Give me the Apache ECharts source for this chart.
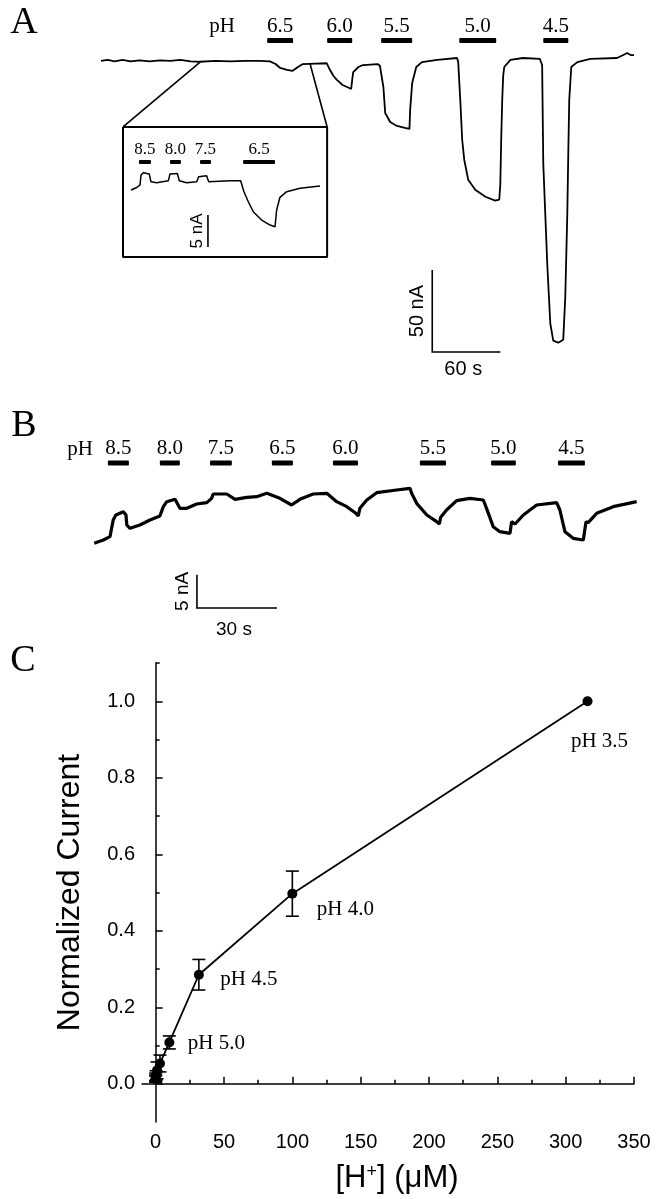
<!DOCTYPE html>
<html>
<head>
<meta charset="utf-8">
<script src="https://cdn.jsdelivr.net/npm/echarts@6/dist/echarts.min.js"></script>
<style>
  html, body { margin: 0; padding: 0; background: #fff; }
  #chart { width: 658px; height: 1199px; }
</style>
</head>
<body>
<div id="chart"></div>
<script>
// ---- panel A: whole-cell current (time in s, current in nA) ----
const timeA = [0, 6, 12, 19, 26, 34, 43, 52, 61, 70, 79, 87, 101, 114, 127, 140, 149, 154, 158, 164,
  169, 174, 178, 189, 199, 201, 205, 208, 213, 217, 220.6, 221.5, 222.4, 227, 231, 244, 246, 249, 250.6, 255,
  261, 268, 272, 272.6, 274.4, 278, 283, 296.5, 314, 315, 316.8, 318.5, 320.3, 323.8, 330, 339, 347.6, 351.2, 352.1, 352.9,
  353.8, 354.7, 355.6, 361, 372, 387, 389, 390, 393.5, 396.2, 398.8, 403.2, 407.6, 409.4, 411.2, 412.1, 412.9, 414.7, 420, 431.5,
  455, 460.6, 464, 467, 470];
const currentA = [0.5, 1.1, 0.2, 1.1, 0.2, 0.8, 0.2, 0.8, 0.5, 1.1, 0.2, 0.0, 0.5, 0.2, 0.5, 0.5, 0.2, -1.4, -3.8, -5.0,
  -5.5, -3.0, -1.4, -1.1, -0.9, -3.8, -8.7, -11.1, -14.2, -15.4, -16.6, -11.1, -6.3, -3.2, -2.0, -1.4, -2.6, -15.4, -31.3, -36.8,
  -39.2, -40.4, -41.0, -29.4, -13.0, -3.2, -0.2, 1.1, 2.3, -0.2, -23.3, -47.6, -59.8, -72, -78.1, -82.4, -84.8, -84.2, -75.1, -47.6,
  -23.3, -8.1, -3.2, 1.1, 2.3, 1.7, -2.0, -62.2, -123.3, -159.9, -170.3, -171.5, -169.7, -143.6, -92.3, -53.9, -23.3, -3.2, -0.2, 1.7,
  2.3, 4.1, 5.4, 4.1, 4.1];
const phA = ['6.5', '6.0', '5.5', '5.0', '4.5'];
const phAStart = [146.5, 199.4, 247, 315.9, 390];
const phAEnd = [169.4, 221.5, 274.4, 348.5, 412.1];
const phALevel = 13;
const scaleA = [292.1, -177.2, 60, 50];       // t0, i0, seconds, nA
const insetBoxTime = [19.4, 199.4];
const insetBoxCurrent = [-39.8, -119.2];
const zoomFromTime = [87.4, 184.4];
const zoomFromCurrent = [-0.2, -1.4];

// ---- panel A inset: alkaline steps ----
const timeInset = [0, 3.8, 6, 6.7, 8.2, 12.2, 13.3, 17.1, 24.9, 26, 30.9, 32.2, 37.1, 43.8, 45.1, 50.4, 51.8, 66, 73.1, 75.3,
  78.2, 81.5, 87.1, 92.7, 96, 97.1, 99.3, 103.8, 112.7, 126];
const currentInset = [-1.3, -0.9, -0.5, 1.05, 1.4, 1.2, 0, -0.16, 0.16, 1.2, 1.3, 0.16, -0.16, 0, 0.78, 0.94, 0, 0.16, 0.16, -1.56,
  -3.13, -4.69, -6.0, -6.78, -7.04, -4.43, -2.44, -1.56, -1.03, -0.67];
const phInset = ['8.5', '8.0', '7.5', '6.5'];
const phInsetStart = [5.3, 26, 46, 74.7];
const phInsetEnd = [13.3, 33.3, 53.3, 96];
const phInsetLevel = 3.08;
const scaleInset = [51.3, -10.2, 0, 5];

// ---- panel B ----
const timeB = [0.1, 3.5, 6.0, 7.2, 8.2, 11.0, 12.0, 12.3, 13.5, 17.2, 21.0, 24.7, 26.0, 27.3, 30.4, 31.2, 32.2, 34.8, 38.5, 42.3,
  44.1, 44.7, 49.8, 52.9, 57.3, 61.0, 64.8, 69.7, 74.1, 77.2, 82.2, 87.3, 91.0, 94.8, 98.2, 99.1, 99.7, 102.3, 106.0, 113.5,
  118.5, 119.1, 121.0, 124.8, 128.5, 129.5, 130.0, 132.2, 136.0, 141.0, 146.0, 147.2, 149.7, 152.2, 156.0, 156.6, 157.9, 161.0, 166.0, 173.5,
  174.7, 176.6, 179.7, 183.5, 184.5, 185.3, 188.5, 194.7, 203.5];
const currentB = [-0.5, 0, 0.5, 3.0, 3.75, 4.25, 3.75, 2.25, 1.75, 2.25, 3.0, 3.6, 5.0, 5.75, 6.1, 5.5, 4.75, 4.75, 5.4, 5.6,
  6.25, 6.9, 6.9, 6.1, 6.4, 6.5, 7.0, 6.25, 5.25, 6.1, 6.9, 7.0, 5.75, 5.0, 4.0, 3.6, 4.75, 6.0, 7.1, 7.5,
  7.75, 7.0, 5.5, 3.75, 2.75, 2.4, 3.4, 4.5, 5.9, 6.25, 6.0, 4.75, 2.0, 1.25, 1.0, 2.75, 2.4, 3.75, 5.25, 5.6,
  4.5, 1.25, 0.25, 0, 2.75, 2.6, 4.0, 5.0, 5.75];
const phB = ['8.5', '8.0', '7.5', '6.5', '6.0', '5.5', '5.0', '4.5'];
const phBStart = [5.2, 24.7, 43.5, 66.7, 89.6, 122.2, 148.9, 174];
const phBEnd = [13.1, 32.2, 51.7, 74.6, 99, 132, 158.2, 184.1];
const phBLevel = 11.55;
const scaleB = [38.6, -10.2, 30, 5];

// ---- panel C: dose response ----
const hConc = [0.0032, 0.01, 0.032, 0.32, 1, 3.16, 10, 31.6, 100, 316];
const normCurrent = [0.012, 0.015, 0.018, 0.022, 0.035, 0.053, 0.108, 0.285, 0.497, 1.0];
const semC = [0.008, 0.008, 0.01, 0.012, 0.022, 0.022, 0.017, 0.04, 0.059, 0];
const pointLabels = ['', '', '', '', '', '', 'pH 5.0', 'pH 4.5', 'pH 4.0', 'pH 3.5'];
const xTicksC = [0, 50, 100, 150, 200, 250, 300, 350];
const xMinorC = [25, 75, 125, 175, 225, 275, 325];
const yTicksC = [0, 0.2, 0.4, 0.6, 0.8, 1.0];
const yMinorC = [0.1, 0.3, 0.5, 0.7, 0.9, 1.1];

const SERIF = '"Liberation Serif", "DejaVu Serif", serif';
const SANS = '"Liberation Sans", Arial, sans-serif';
const labelOffsetC = { 6: [47, 1], 7: [50, 5], 8: [53, 16], 9: [12, 40] };

function zip(a, b) { return a.map((v, i) => [v, b[i]]); }

function hiddenAxis(grid, min, max) {
  return { type: 'value', gridIndex: grid, min: min, max: max, show: false };
}

function traceSeries(grid, t, c, width) {
  return {
    type: 'line', xAxisIndex: grid, yAxisIndex: grid, data: zip(t, c), symbol: 'none', silent: true,
    lineStyle: { color: '#000', width: width }, z: 3
  };
}

function stimSeries(grid, starts, ends, level, labels, thick, gap, fontSize) {
  return {
    type: 'custom', xAxisIndex: grid, yAxisIndex: grid, silent: true,
    data: starts.map((s, i) => [s, ends[i], level]),
    renderItem(params, api) {
      const a = api.coord([api.value(0), api.value(2)]);
      const b = api.coord([api.value(1), api.value(2)]);
      return {
        type: 'group', children: [
          { type: 'rect', shape: { x: a[0], y: a[1] - thick / 2, width: b[0] - a[0], height: thick, r: 1 }, style: { fill: '#000' } },
          { type: 'text', x: (a[0] + b[0]) / 2, y: a[1] - gap,
            style: { text: labels[params.dataIndex], fill: '#000', fontSize: fontSize, fontFamily: SERIF, align: 'center', verticalAlign: 'middle' } }
        ]
      };
    }
  };
}

function scaleSeries(grid, bar, xText, yText, yGap, xGap, fontSize) {
  return {
    type: 'custom', xAxisIndex: grid, yAxisIndex: grid, silent: true,
    data: [bar],
    renderItem(params, api) {
      const t0 = api.value(0), i0 = api.value(1), dt = api.value(2), di = api.value(3);
      const o = api.coord([t0, i0]);
      const px = api.coord([t0 + dt, i0]);
      const py = api.coord([t0, i0 + di]);
      const kids = [
        { type: 'polyline', shape: { points: [py, o, px] }, style: { stroke: '#000', lineWidth: 1.6, fill: null } },
        { type: 'text', x: o[0] - yGap, y: (o[1] + py[1]) / 2, rotation: Math.PI / 2,
          style: { text: yText, fill: '#000', fontSize: fontSize, fontFamily: SANS, align: 'center', verticalAlign: 'middle' } }
      ];
      if (xText) {
        kids.push({ type: 'text', x: (o[0] + px[0]) / 2 - 3, y: o[1] + xGap,
          style: { text: xText, fill: '#000', fontSize: fontSize, fontFamily: SANS, align: 'center', verticalAlign: 'middle' } });
      }
      return { type: 'group', children: kids };
    }
  };
}

const chart = echarts.init(document.getElementById('chart'));

const axisBlack = { color: '#000', width: 1.5 };

chart.setOption({
  animation: false,
  backgroundColor: '#fff',
  grid: [
    { left: 101, top: 12.62, width: 533, height: 360.36, outerBoundsMode: 'none' },
    { left: 131, top: 137, width: 189, height: 115, outerBoundsMode: 'none' },
    { left: 94, top: 440, width: 544, height: 200, outerBoundsMode: 'none' },
    { left: 142, top: 663, width: 492, height: 459, outerBoundsMode: 'none' }
  ],
  xAxis: [
    hiddenAxis(0, 0, 470),
    hiddenAxis(1, 0, 126),
    hiddenAxis(2, 0, 204),
    {
      type: 'value', gridIndex: 3, min: -10, max: 350, position: 'bottom',
      axisLine: { show: true, lineStyle: axisBlack },
      axisTick: { show: true, inside: true, length: 7, customValues: xTicksC, lineStyle: axisBlack },
      axisLabel: { customValues: xTicksC, margin: 10, color: '#000', fontSize: 20, fontFamily: SANS },
      splitLine: { show: false },
      name: '{b|[H}{s|+}{b|] (\u03bcM)}', nameLocation: 'middle', nameGap: 41,
      nameTextStyle: {
        color: '#000', padding: [0, 0, 0, 18],
        rich: {
          b: { fontSize: 31, fontFamily: SANS, color: '#000' },
          s: { fontSize: 18, fontFamily: SANS, color: '#000', verticalAlign: 'top' }
        }
      }
    },
    {
      type: 'value', gridIndex: 3, min: -10, max: 350, position: 'bottom',
      axisLine: { show: false },
      axisTick: { show: true, inside: true, length: 4, customValues: xMinorC, lineStyle: axisBlack },
      axisLabel: { show: false },
      splitLine: { show: false }
    }
  ],
  yAxis: [
    hiddenAxis(0, -190, 30),
    hiddenAxis(1, -11, 7),
    hiddenAxis(2, -15, 15),
    {
      type: 'value', gridIndex: 3, min: -0.1, max: 1.1, position: 'left',
      axisLine: { show: true, lineStyle: axisBlack },
      axisTick: { show: true, inside: true, length: 7, customValues: yTicksC, lineStyle: axisBlack },
      axisLabel: { customValues: yTicksC, margin: 7, color: '#000', fontSize: 20, fontFamily: SANS, formatter: v => v.toFixed(1) },
      splitLine: { show: false },
      name: 'Normalized Current', nameLocation: 'middle', nameGap: 56,
      nameTextStyle: { color: '#000', fontSize: 32, fontFamily: SANS }
    },
    {
      type: 'value', gridIndex: 3, min: -0.1, max: 1.1, position: 'left',
      axisLine: { show: false },
      axisTick: { show: true, inside: true, length: 4, customValues: yMinorC, lineStyle: axisBlack },
      axisLabel: { show: false },
      splitLine: { show: false }
    }
  ],
  graphic: [
    { type: 'text', x: 24, y: 23, style: { text: 'A', fontSize: 38, fontFamily: SERIF, fill: '#000', align: 'center', verticalAlign: 'middle' } },
    { type: 'text', x: 24, y: 426, style: { text: 'B', fontSize: 38, fontFamily: SERIF, fill: '#000', align: 'center', verticalAlign: 'middle' } },
    { type: 'text', x: 23, y: 661, style: { text: 'C', fontSize: 38, fontFamily: SERIF, fill: '#000', align: 'center', verticalAlign: 'middle' } },
    { type: 'text', x: 222, y: 26, style: { text: 'pH', fontSize: 21, fontFamily: SERIF, fill: '#000', align: 'center', verticalAlign: 'middle' } },
    { type: 'text', x: 80, y: 449, style: { text: 'pH', fontSize: 21, fontFamily: SERIF, fill: '#000', align: 'center', verticalAlign: 'middle' } }
  ],
  series: [
    // panel A
    traceSeries(0, timeA, currentA, 1.8),
    stimSeries(0, phAStart, phAEnd, phALevel, phA, 5, 14, 21),
    scaleSeries(0, scaleA, '60 s', '50 nA', 15, 17, 20),
    {
      type: 'line', xAxisIndex: 0, yAxisIndex: 0, symbol: 'none', silent: true,
      lineStyle: { color: '#000', width: 2 },
      data: [[insetBoxTime[0], insetBoxCurrent[0]], [insetBoxTime[1], insetBoxCurrent[0]], [insetBoxTime[1], insetBoxCurrent[1]],
        [insetBoxTime[0], insetBoxCurrent[1]], [insetBoxTime[0], insetBoxCurrent[0]]]
    },
    {
      type: 'line', xAxisIndex: 0, yAxisIndex: 0, symbol: 'none', silent: true, lineStyle: { color: '#000', width: 1.6 },
      data: [[zoomFromTime[0], zoomFromCurrent[0]], [insetBoxTime[0], insetBoxCurrent[0]]]
    },
    {
      type: 'line', xAxisIndex: 0, yAxisIndex: 0, symbol: 'none', silent: true, lineStyle: { color: '#000', width: 1.6 },
      data: [[zoomFromTime[1], zoomFromCurrent[1]], [insetBoxTime[1], insetBoxCurrent[0]]]
    },
    // inset
    traceSeries(1, timeInset, currentInset, 1.5),
    stimSeries(1, phInsetStart, phInsetEnd, phInsetLevel, phInset, 4, 13, 17),
    scaleSeries(1, scaleInset, '', '5 nA', 11, 0, 17),
    // panel B
    traceSeries(2, timeB, currentB, 3.2),
    stimSeries(2, phBStart, phBEnd, phBLevel, phB, 5, 15, 21),
    scaleSeries(2, scaleB, '30 s', '5 nA', 14, 22, 19),
    // panel C
    {
      type: 'custom', xAxisIndex: 3, yAxisIndex: 3, silent: true, z: 2,
      data: hConc.map((h, i) => [h, normCurrent[i], semC[i]]),
      renderItem(params, api) {
        const e = api.value(2);
        if (!e) return null;
        const top = api.coord([api.value(0), api.value(1) + e]);
        const bot = api.coord([api.value(0), api.value(1) - e]);
        const w = 6.5;
        const st = { stroke: '#000', lineWidth: 1.6 };
        return {
          type: 'group', children: [
            { type: 'line', shape: { x1: top[0], y1: top[1], x2: bot[0], y2: bot[1] }, style: st },
            { type: 'line', shape: { x1: top[0] - w, y1: top[1], x2: top[0] + w, y2: top[1] }, style: st },
            { type: 'line', shape: { x1: bot[0] - w, y1: bot[1], x2: bot[0] + w, y2: bot[1] }, style: st }
          ]
        };
      }
    },
    {
      type: 'line', xAxisIndex: 3, yAxisIndex: 3, silent: true, z: 3,
      symbol: 'circle', symbolSize: 10,
      itemStyle: { color: '#000' },
      lineStyle: { color: '#000', width: 1.8 },
      data: hConc.map((h, i) => ({
        value: [h, normCurrent[i]],
        label: pointLabels[i] ? {
          show: true, formatter: pointLabels[i], position: 'inside', offset: labelOffsetC[i],
          color: '#000', fontSize: 21, fontFamily: SERIF
        } : { show: false }
      }))
    }
  ]
});
</script>
</body>
</html>
